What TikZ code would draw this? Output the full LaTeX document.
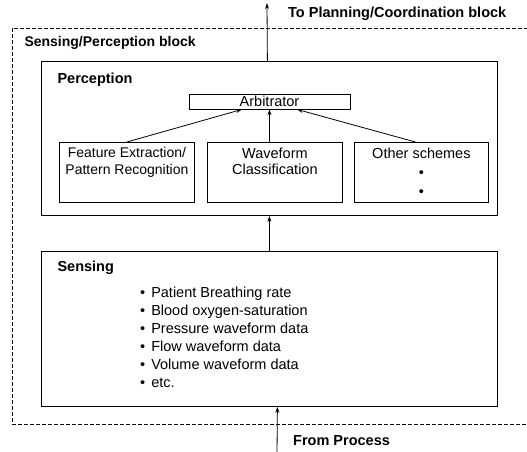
\documentclass[tikz,border=0pt]{standalone}
\usepackage{fontspec}
\setmainfont{Liberation Sans}
\usetikzlibrary{arrows.meta}
\tikzset{
  box/.style={draw, line width=0.8pt, inner sep=0pt},
  blockbox/.style={draw, dash pattern=on 4pt off 2pt, line width=0.7pt, inner sep=0pt},
  flow/.style={-{Stealth[length=6pt,width=4pt]}, line width=0.8pt},
}
\begin{document}
\begin{tikzpicture}[x=1pt, y=-1pt, font=\fontsize{14.5}{16.5}\selectfont]
  \useasboundingbox (0,0) rectangle (527,451);

  %----- outer block -----
  \node (block) [blockbox, minimum width=540pt, minimum height=396pt, anchor=north west,
    label={[anchor=north west, xshift=9pt, yshift=-5pt]north west:{\bfseries\fontsize{14}{16}\selectfont Sensing/Perception block}}] at (12,28) {};

  %----- perception -----
  \node (perc) [box, minimum width=456pt, minimum height=154pt, anchor=north west,
    label={[anchor=north west, xshift=13pt, yshift=-8pt]north west:{\bfseries Perception}}] at (41,61) {};
  \node (arb) [box, minimum width=161pt, minimum height=15pt] at (269.5,101.5) {Arbitrator};

  \node (feat) [box, minimum width=135pt, minimum height=60pt, anchor=north west,
    label={[anchor=north, yshift=-2pt, align=center, font=\fontsize{14}{16.5}\selectfont]north:{Feature Extraction/\\Pattern Recognition}}] at (59,142) {};
  \node (wave) [box, minimum width=135pt, minimum height=60pt, anchor=north west,
    label={[anchor=north, yshift=-2pt, align=center]north:{Waveform\\Classification}}] at (207,142) {};
  \node (other) [box, minimum width=134pt, minimum height=60pt, anchor=north west,
    label={[anchor=north, yshift=-2pt, align=center]north:{Other schemes\\[3pt]\textbullet\\[2pt]\textbullet}}] at (354,142) {};

  \draw[flow] (feat.north) -- ([xshift=-27.5pt]arb.south);
  \draw[flow] (arb.south |- wave.north) -- (arb.south);
  \draw[flow] ([xshift=-6pt]other.north) -- ([xshift=27.5pt]arb.south);

  %----- sensing -----
  \node (sens) [box, minimum width=456pt, minimum height=155pt, anchor=north west,
    label={[anchor=north west, xshift=13pt, yshift=-6pt]north west:{\bfseries Sensing}}] at (41,251) {};
  \node (items) [anchor=north west, align=left, inner sep=0pt, font=\fontsize{14.5}{18}\selectfont] at (140,287)
    {\textbullet\hspace{6pt}Patient Breathing rate\\
     \textbullet\hspace{6pt}Blood oxygen-saturation\\
     \textbullet\hspace{6pt}Pressure waveform data\\
     \textbullet\hspace{6pt}Flow waveform data\\
     \textbullet\hspace{6pt}Volume waveform data\\
     \textbullet\hspace{6pt}etc.};

  \draw[flow] (sens.north) -- (perc.south);

  %----- in and out -----
  \coordinate (plan) at (267,3);
  \draw[flow] ([xshift=-2pt]perc.north) -- (plan);
  \node (plantext) [anchor=west, inner sep=0pt] at (288,14) {\bfseries To Planning/Coordination block};

  \coordinate (proc) at (277,455);
  \draw[flow] (proc) -- ([xshift=8pt]sens.south);
  \node (proctext) [anchor=west, inner sep=0pt] at (293,441) {\bfseries From Process};
\end{tikzpicture}
\end{document}
